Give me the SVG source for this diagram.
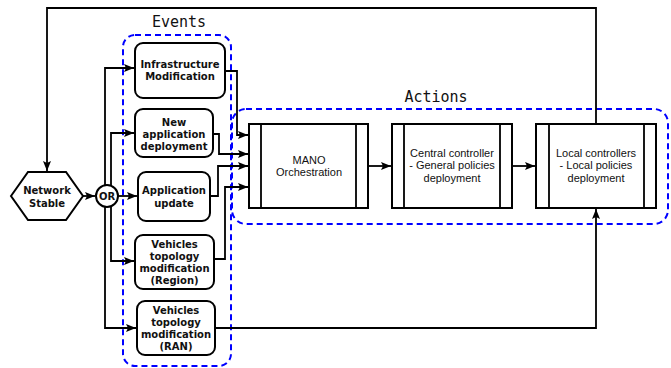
<svg xmlns="http://www.w3.org/2000/svg" width="671" height="368" viewBox="0 0 671 368">
<style>
.ev{fill:#fff;stroke:#000;stroke-width:2}
.act{fill:#fff;stroke:#000;stroke-width:2}
.grp{fill:none;stroke:#0000ff;stroke-width:2;stroke-dasharray:6,4}
.t{font-family:"DejaVu Sans",sans-serif;font-weight:bold;font-size:10px;text-anchor:middle;fill:#111}
.a{font-family:"Liberation Sans",Arial,sans-serif;font-size:11px;text-anchor:middle;fill:#111}
.lbl{font-family:"DejaVu Sans Mono",monospace;font-size:15px;text-anchor:middle;fill:#111}
.c{fill:none;stroke:#000;stroke-width:1.8}
</style>
<defs>
<marker id="ar" markerUnits="userSpaceOnUse" markerWidth="10" markerHeight="8" refX="10" refY="4" orient="auto">
<path d="M0,0 L10,4 L0,8 L2,4 Z" fill="#000"/>
</marker>
</defs>
<g id="group-events">
<rect class="grp" x="123" y="35" width="108" height="331" rx="12"/>
<text class="lbl" x="179" y="27">Events</text>
</g>
<g id="group-actions">
<rect class="grp" x="232" y="109" width="436" height="115" rx="14"/>
<text class="lbl" x="436" y="102">Actions</text>
</g>
<g id="connectors">
<path class="c" d="M596,124 V8 H47 V171" marker-end="url(#ar)"/>
<path class="c" d="M83,196 H95" marker-end="url(#ar)"/>
<path class="c" d="M118,196 H137" marker-end="url(#ar)"/>
<path class="c" d="M105,185 V68 H134" marker-end="url(#ar)"/>
<path class="c" d="M111,186 V133 H134" marker-end="url(#ar)"/>
<path class="c" d="M111,206 V261 H134" marker-end="url(#ar)"/>
<path class="c" d="M105,207 V328 H136" marker-end="url(#ar)"/>
<path class="c" d="M225,71 H237 V135 H248" marker-end="url(#ar)"/>
<path class="c" d="M213,134 H219 V154 H248" marker-end="url(#ar)"/>
<path class="c" d="M210,196 H218 V166 H248" marker-end="url(#ar)"/>
<path class="c" d="M214,259 H225 V187 H248" marker-end="url(#ar)"/>
<path class="c" d="M368,166 H391" marker-end="url(#ar)"/>
<path class="c" d="M512,166 H535" marker-end="url(#ar)"/>
<path class="c" d="M215,328 H596 V209" marker-end="url(#ar)"/>
</g>
<g id="network-stable">
<polygon points="11,196 28,172 66,172 83,196 66,220 28,220" fill="#fff" stroke="#000" stroke-width="2"/>
<text class="t" x="47" y="194">Network</text>
<text class="t" x="47" y="207">Stable</text>
</g>
<g id="or">
<circle cx="107" cy="196" r="11" fill="#fff" stroke="#000" stroke-width="2"/>
<text class="t" x="107" y="200">OR</text>
</g>
<g id="infrastructure-modification">
<rect class="ev" x="135" y="43" width="90" height="55" rx="8"/>
<text class="t" x="180" y="68">Infrastructure</text>
<text class="t" x="180" y="80">Modification</text>
</g>
<g id="new-application-deployment">
<rect class="ev" x="135" y="109" width="78" height="48" rx="8"/>
<text class="t" x="174" y="126">New</text>
<text class="t" x="174" y="138">application</text>
<text class="t" x="174" y="150">deployment</text>
</g>
<g id="application-update">
<rect class="ev" x="138" y="172" width="72" height="49" rx="8"/>
<text class="t" x="174" y="194">Application</text>
<text class="t" x="174" y="207">update</text>
</g>
<g id="vehicles-region">
<rect class="ev" x="135" y="235" width="79" height="54" rx="8"/>
<text class="t" x="174.5" y="248">Vehicles</text>
<text class="t" x="174.5" y="260">topology</text>
<text class="t" x="174.5" y="272">modification</text>
<text class="t" x="174.5" y="284">(Region)</text>
</g>
<g id="vehicles-ran">
<rect class="ev" x="137" y="301" width="78" height="54" rx="8"/>
<text class="t" x="176" y="314">Vehicles</text>
<text class="t" x="176" y="326">topology</text>
<text class="t" x="176" y="338">modification</text>
<text class="t" x="176" y="350">(RAN)</text>
</g>
<g id="mano">
<rect class="act" x="249" y="124" width="119" height="84"/>
<path class="c" d="M261,124 V208 M356,124 V208"/>
<text class="a" x="309" y="164">MANO</text>
<text class="a" x="309" y="176">Orchestration</text>
</g>
<g id="central-controller">
<rect class="act" x="392" y="124" width="120" height="84"/>
<path class="c" d="M404,124 V208 M500,124 V208"/>
<text class="a" x="452" y="157">Central controller</text>
<text class="a" x="452" y="169">- General policies</text>
<text class="a" x="452" y="182">deployment</text>
</g>
<g id="local-controllers">
<rect class="act" x="536" y="124" width="120" height="84"/>
<path class="c" d="M549,124 V208 M644,124 V208"/>
<text class="a" x="596" y="157">Local controllers</text>
<text class="a" x="596" y="169">- Local policies</text>
<text class="a" x="596" y="182">deployment</text>
</g>
</svg>
